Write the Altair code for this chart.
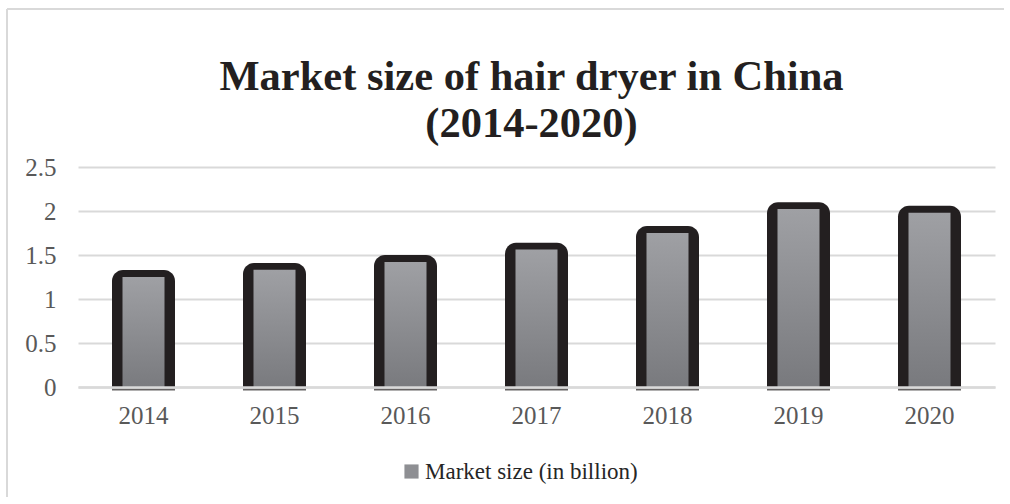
import altair as alt
import pandas as pd

years = ["2014", "2015", "2016", "2017", "2018", "2019", "2020"]
market_size = [1.29, 1.37, 1.46, 1.60, 1.79, 2.06, 2.02]
series_name = "Market size (in billion)"
title_lines = ["Market size of hair dryer in China", "(2014-2020)"]

df = pd.DataFrame({"year": years, "value": market_size, "series": [series_name] * len(years)})

FONT = "Liberation Serif"
DARK = "#231f20"

x_enc = alt.X("year:N", title=None, sort=years,
              scale=alt.Scale(paddingInner=0, paddingOuter=0),
              axis=alt.Axis(labelAngle=0, labelFontSize=25, labelColor="#595959", labelFont=FONT,
                            ticks=False, domainColor="#d9d9d9", domainWidth=2.5, labelPadding=16,
                            zindex=1))
y_enc = alt.Y("value:Q", title=None,
              scale=alt.Scale(domain=[0, 2.5], nice=False),
              axis=alt.Axis(values=[0, 0.5, 1, 1.5, 2, 2.5], labelFontSize=25, labelColor="#595959",
                            labelFont=FONT, ticks=False, domain=False, gridColor="#d9d9d9",
                            gridWidth=2, labelPadding=22,
                            labelExpr="datum.value == 0 ? '0' : format(datum.value, '.2~f')"))

legend_layer = alt.Chart(df).mark_bar(size=42, clip=True).encode(
    x=x_enc, y=y_enc,
    color=alt.Color("series:N", title=None,
                    scale=alt.Scale(range=["#8e8f93"]),
                    legend=alt.Legend(orient="none", legendX=322, legendY=293, symbolType="square",
                                      symbolSize=200, symbolStrokeWidth=0, labelFont=FONT,
                                      labelFontSize=23, labelColor="#262626", labelOffset=2,
                                      labelLimit=500)),
)

outer = alt.Chart(df).mark_bar(size=63, color=DARK, cornerRadiusTopLeft=11, cornerRadiusTopRight=11,
                               yOffset=-3.4, clip=True).encode(
    x=x_enc, y=y_enc, y2=alt.datum(-0.08),
)

grad = alt.Gradient(gradient="linear", x1=0, x2=0, y1=0, y2=1,
                    stops=[alt.GradientStop(offset=0, color="#9fa0a4"),
                           alt.GradientStop(offset=1, color="#77787c")])

inner = alt.Chart(df).mark_bar(size=42, fill=grad, yOffset=3.4, clip=True).encode(
    x=x_enc, y=y_enc, y2=alt.datum(-0.08),
)

base_line = alt.Chart(df).mark_tick(size=63, thickness=2, color=DARK, yOffset=2.5).encode(
    x=x_enc, y=alt.datum(0),
)

frame_top = alt.Chart(pd.DataFrame({"a": [0]})).mark_rule(color="#d9d9d9", strokeWidth=2).encode(
    x=alt.value(-71), x2=alt.value(926), y=alt.value(-158), y2=alt.value(-158)
)
frame_left = alt.Chart(pd.DataFrame({"a": [0]})).mark_rule(color="#d9d9d9", strokeWidth=2).encode(
    x=alt.value(-71), x2=alt.value(-71), y=alt.value(-158), y2=alt.value(330)
)

chart = alt.layer(frame_top, frame_left, legend_layer, outer, inner, base_line).properties(
    width=917, height=220,
    padding={"left": 78, "top": 167, "right": 9, "bottom": 110},
    autosize=alt.AutoSizeParams(type="none"),
    title=alt.TitleParams(text=title_lines, font=FONT, fontSize=42.5, fontWeight="bold",
                          color=DARK, anchor="middle", offset=-137, lineHeight=47, dx=-5),
).configure_view(stroke=None)

chart.save("out.html", embed_options={"renderer": "svg", "actions": False})
